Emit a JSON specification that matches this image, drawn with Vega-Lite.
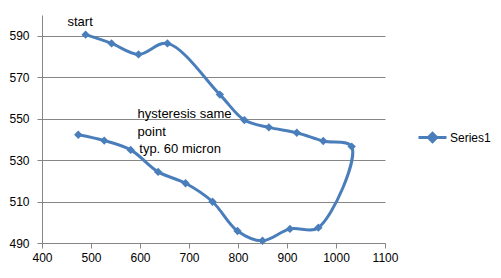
{
  "$schema": "https://vega.github.io/schema/vega-lite/v6.json",
  "autosize": "none",
  "width": 343,
  "height": 228,
  "padding": {"left": 42, "top": 15, "right": 116, "bottom": 35},
  "background": "white",
  "config": {
    "view": {"stroke": null},
    "font": "Liberation Sans",
    "axis": {
      "labelFont": "Liberation Sans",
      "labelFontSize": 12,
      "labelColor": "#000000",
      "domainColor": "#868686",
      "tickColor": "#868686",
      "gridColor": "#868686",
      "gridOpacity": 1,
      "title": null
    }
  },
  "datasets": {
    "series": [
      {"i": 1, "x": 489, "y": 590.5, "s": "Series1"},
      {"i": 2, "x": 542, "y": 586.3, "s": "Series1"},
      {"i": 3, "x": 597, "y": 581.0, "s": "Series1"},
      {"i": 4, "x": 656, "y": 586.3, "s": "Series1"},
      {"i": 5, "x": 763, "y": 561.6, "s": "Series1"},
      {"i": 6, "x": 813, "y": 549.3, "s": "Series1"},
      {"i": 7, "x": 863, "y": 545.8, "s": "Series1"},
      {"i": 8, "x": 920, "y": 543.2, "s": "Series1"},
      {"i": 9, "x": 974, "y": 539.2, "s": "Series1"},
      {"i": 10, "x": 1032, "y": 536.5, "s": "Series1"},
      {"i": 11, "x": 964, "y": 497.4, "s": "Series1"},
      {"i": 12, "x": 906, "y": 496.8, "s": "Series1"},
      {"i": 13, "x": 850, "y": 491.1, "s": "Series1"},
      {"i": 14, "x": 799, "y": 495.8, "s": "Series1"},
      {"i": 15, "x": 748, "y": 509.9, "s": "Series1"},
      {"i": 16, "x": 693, "y": 518.8, "s": "Series1"},
      {"i": 17, "x": 637, "y": 524.3, "s": "Series1"},
      {"i": 18, "x": 581, "y": 534.9, "s": "Series1"},
      {"i": 19, "x": 527, "y": 539.4, "s": "Series1"},
      {"i": 20, "x": 474, "y": 542.2, "s": "Series1"}
    ],
    "notes": [
      {"x": 452, "y": 596.6, "t": "start"},
      {"x": 595, "y": 552.1, "t": "hysteresis same"},
      {"x": 595, "y": 543.7, "t": "point"},
      {"x": 598.5, "y": 535.2, "t": "typ. 60 micron"}
    ]
  },
  "layer": [
    {
      "data": {"name": "series"},
      "mark": {"type": "line", "interpolate": "catmull-rom", "strokeWidth": 3, "clip": false},
      "encoding": {
        "x": {"field": "x", "type": "quantitative", "scale": {"domain": [400, 1100], "nice": false, "zero": false},
              "axis": {"values": [400, 500, 600, 700, 800, 900, 1000, 1100], "format": "d", "grid": false, "tickSize": 5, "labelPadding": 4, "labelFlush": false}},
        "y": {"field": "y", "type": "quantitative", "scale": {"domain": [490, 600], "nice": false, "zero": false},
              "axis": {"values": [490, 510, 530, 550, 570, 590], "format": "d", "grid": true, "tickSize": 5, "labelPadding": 8}},
        "order": {"field": "i", "type": "quantitative"},
        "color": {"field": "s", "type": "nominal", "scale": {"range": ["#4A7EBB"]},
                  "legend": {"title": null, "orient": "none", "legendX": 375, "legendY": 107, "padding": 0,
                             "symbolType": "M-1,0H1M0,-0.3L0.3,0L0,0.3L-0.3,0Z", "symbolSize": 784,
                             "symbolStrokeWidth": 3, "symbolFillColor": "#4A7EBB", "symbolStrokeColor": "#4A7EBB",
                             "labelFont": "Liberation Sans", "labelFontSize": 12, "labelColor": "#000000", "labelOffset": 2}}
      }
    },
    {
      "data": {"name": "series"},
      "mark": {"type": "point", "shape": "diamond", "filled": true, "size": 70, "opacity": 1, "color": "#4A7EBB"},
      "encoding": {
        "x": {"field": "x", "type": "quantitative"},
        "y": {"field": "y", "type": "quantitative"}
      }
    },
    {
      "data": {"name": "notes"},
      "mark": {"type": "text", "align": "left", "baseline": "middle", "font": "Liberation Sans", "fontSize": 13, "color": "#000000"},
      "encoding": {
        "x": {"field": "x", "type": "quantitative"},
        "y": {"field": "y", "type": "quantitative"},
        "text": {"field": "t", "type": "nominal"}
      }
    }
  ]
}
